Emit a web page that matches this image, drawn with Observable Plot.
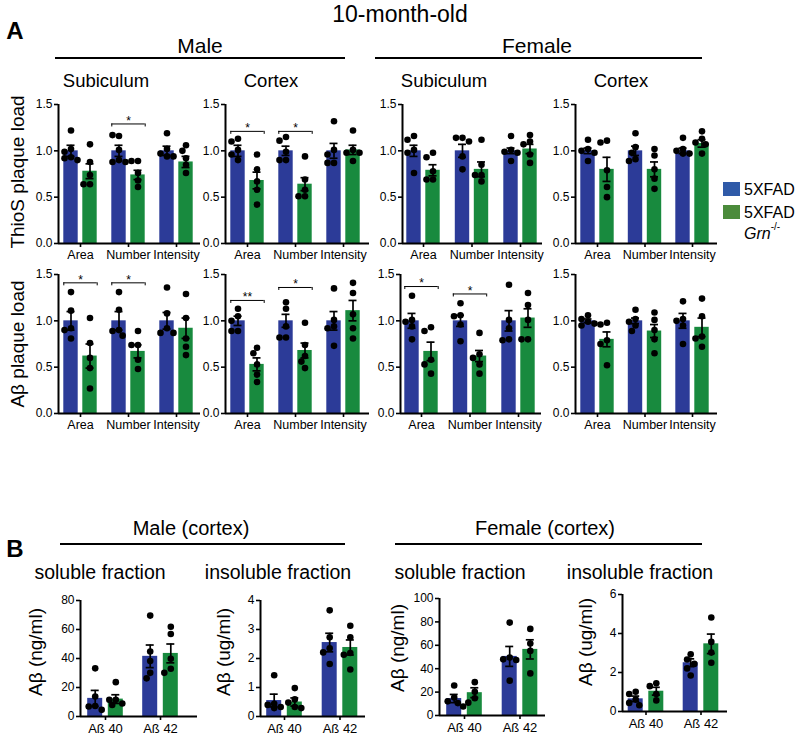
<!DOCTYPE html>
<html><head><meta charset="utf-8">
<script src="https://cdn.jsdelivr.net/npm/d3@7"></script>
<script src="https://cdn.jsdelivr.net/npm/@observablehq/plot@0.6"></script>
<style>
body{margin:0;background:#fff;}
#fig{position:relative;width:799px;height:742px;font-family:"Liberation Sans",Arial,Helvetica,sans-serif;color:#000;overflow:hidden;background:#fff;}
.t{position:absolute;white-space:nowrap;transform:translate(-50%,-50%);line-height:1;}
.hl{position:absolute;height:1.5px;background:#000;}
.p{position:absolute;}
.p svg{overflow:visible;}
</style></head><body><div id="fig"></div>
<script>
// ---------- categories & groups ----------
const catsA = ["Area", "Number", "Intensity"];
const catsB = ["A\u00df 40", "A\u00df 42"];
const groups = ["5XFAD", "5XFAD Grn-/-"];
// values ordered: cat0 5XFAD, cat0 Grn-/-, cat1 5XFAD, cat1 Grn-/-, ...

// ---------- A: ThioS plaque load ----------
const mSubThioMean = [1.00, 0.78, 1.00, 0.74, 1.00, 0.88];
const mSubThioSem  = [0.06, 0.08, 0.06, 0.05, 0.05, 0.06];
const mSubThioPts  = [[1.22,1.02,0.99,0.93,0.92,0.90],[1.07,0.88,0.74,0.64,0.64],[1.16,1.17,1.01,0.90,0.88,0.88],[0.89,0.89,0.76,0.68,0.61],[1.19,1.02,0.97,0.94,0.94],[1.06,1.00,0.92,0.85,0.76]];

const mCtxThioMean = [1.00, 0.68, 1.00, 0.64, 1.00, 1.01];
const mCtxThioSem  = [0.06, 0.09, 0.05, 0.07, 0.08, 0.05];
const mCtxThioPts  = [[1.13,1.10,1.01,0.96,0.90],[0.96,0.80,0.67,0.58,0.42],[1.15,1.11,0.99,0.90,0.90],[0.94,0.69,0.58,0.51,0.51],[1.32,1.01,0.96,0.87,0.87],[1.22,1.01,0.98,0.98,0.89]];

const fSubThioMean = [1.00, 0.79, 1.00, 0.80, 1.00, 1.02];
const fSubThioSem  = [0.06, 0.06, 0.07, 0.08, 0.03, 0.05];
const fSubThioPts  = [[1.16,1.12,1.01,0.98,0.76],[0.98,0.93,0.78,0.69,0.69],[1.14,1.14,1.10,0.94,0.80],[1.12,0.85,0.74,0.74,0.67],[1.16,1.01,0.99,0.98,0.89],[1.17,1.10,1.07,0.96,0.87]];

const fCtxThioMean = [1.00, 0.80, 1.00, 0.80, 1.00, 1.08];
const fCtxThioSem  = [0.03, 0.13, 0.05, 0.08, 0.03, 0.04];
const fCtxThioPts  = [[1.12,1.02,1.00,0.98,0.89],[1.11,1.09,0.79,0.61,0.50],[1.19,1.04,0.98,0.91,0.89],[1.02,0.95,0.80,0.70,0.59],[1.14,1.02,1.00,0.97,0.97],[1.21,1.13,1.09,1.07,0.97]];

// ---------- A: Aβ plaque load ----------
const mSubAbMean = [1.00, 0.62, 1.00, 0.67, 1.00, 0.92];
const mSubAbSem  = [0.10, 0.13, 0.10, 0.07, 0.09, 0.11];
const mSubAbPts  = [[1.31,1.11,0.92,0.90,0.81],[1.03,0.76,0.60,0.49,0.27],[1.31,1.12,0.90,0.89,0.84],[0.89,0.74,0.74,0.58,0.48],[1.36,1.08,0.92,0.87,0.87],[1.29,1.03,0.81,0.72,0.63]];

const mCtxAbMean = [1.00, 0.53, 1.00, 0.68, 1.00, 1.11];
const mCtxAbSem  = [0.05, 0.07, 0.07, 0.08, 0.10, 0.11];
const mCtxAbPts  = [[1.13,1.05,1.00,0.89,0.89],[0.71,0.65,0.53,0.42,0.34],[1.20,1.13,0.94,0.82,0.82],[0.98,0.74,0.62,0.56,0.49],[1.35,1.01,0.94,0.92,0.73],[1.41,1.30,1.07,0.92,0.81]];

const fSubAbMean = [1.00, 0.67, 1.00, 0.62, 1.00, 1.03];
const fSubAbSem  = [0.08, 0.10, 0.06, 0.06, 0.11, 0.10];
const fSubAbPts  = [[1.27,1.01,0.99,0.94,0.80],[0.93,0.89,0.58,0.53,0.43],[1.19,1.06,1.05,0.96,0.78],[0.87,0.64,0.60,0.53,0.43],[1.39,1.01,0.92,0.80,0.79],[1.30,1.17,1.01,0.80,0.80]];

const fCtxAbMean = [1.00, 0.80, 1.00, 0.89, 1.00, 0.93];
const fCtxAbSem  = [0.02, 0.08, 0.03, 0.07, 0.08, 0.10];
const fCtxAbPts  = [[1.06,1.02,0.99,0.97,0.95],[0.98,0.96,0.79,0.75,0.52],[1.12,1.02,0.99,0.95,0.89],[1.09,1.01,0.90,0.80,0.65],[1.21,1.02,1.00,0.95,0.75],[1.24,1.05,0.83,0.81,0.72]];

// significance brackets: [category index, level, label]
const mSubThioSig = [[1, 1.29, "*"]];
const mCtxThioSig = [[0, 1.21, "*"], [1, 1.21, "*"]];
const mSubAbSig   = [[0, 1.41, "*"], [1, 1.41, "*"]];
const mCtxAbSig   = [[0, 1.22, "**"], [1, 1.36, "*"]];
const fSubAbSig   = [[0, 1.37, "*"], [1, 1.29, "*"]];

// ---------- B: ELISA ----------
const mSolMean = [12.5, 12.0, 41.5, 43.5];
const mSolSem  = [5.5, 3.0, 7.8, 6.5];
const mSolPts  = [[33.2,13.8,7.2,6.9,4.6],[23.7,11.5,11.5,9.0,8.0],[69.6,44.8,38.2,30.1,26.3],[61.9,56.9,39.8,32.9,30.1]];

const mInsolMean = [0.55, 0.50, 2.55, 2.38];
const mInsolSem  = [0.22, 0.14, 0.32, 0.26];
const mInsolPts  = [[1.42,0.44,0.40,0.33,0.29],[0.98,0.59,0.48,0.33,0.29],[3.66,2.73,2.35,2.21,1.81],[3.13,2.73,2.19,2.13,1.62]];

const fSolMean = [14.5, 19.5, 50.5, 56.5];
const fSolSem  = [3.5, 4.2, 8.5, 8.2];
const fSolPts  = [[25.6,15.4,12.1,10.6,7.7],[28.5,20.2,14.8,11.0],[79.4,49.5,48.0,47.5,29.8],[74.0,61.5,55.2,36.0]];

const fInsolMean = [0.65, 1.04, 2.50, 3.47];
const fInsolSem  = [0.14, 0.20, 0.20, 0.50];
const fInsolPts  = [[1.01,0.90,0.61,0.44,0.32],[1.45,1.30,0.90,0.57],[2.93,2.67,2.44,2.21,1.85],[4.82,3.57,3.02,2.50]];

const ticksA = [0, 0.5, 1.0, 1.5];
const ticksSol = [0, 20, 40, 60, 80];
const ticksInsolM = [0, 1, 2, 3, 4];
const ticksSolF = [0, 20, 40, 60, 80, 100];
const ticksInsolF = [0, 2, 4, 6];

// ---------- styling ----------
const FONT = '"Liberation Sans", Arial, Helvetica, sans-serif';
const barColors = ["#2c3b98", "#188a3e"];
const legendColors = ["#2f5aa8", "#4b8b3b"];

const fig = document.getElementById("fig");

function addText(txt, x, y, size, opts = {}) {
  const d = document.createElement("div");
  d.className = "t";
  d.innerHTML = txt;
  d.style.left = x + "px";
  d.style.top = y + "px";
  d.style.fontSize = size + "px";
  if (opts.bold) d.style.fontWeight = "bold";
  if (opts.rot) d.style.transform = "translate(-50%,-50%) rotate(-90deg)";
  if (opts.left) d.style.transform = "translate(0,-50%)";
  fig.appendChild(d);
}
function addLine(x1, x2, y) {
  const d = document.createElement("div");
  d.className = "hl";
  d.style.left = x1 + "px"; d.style.width = (x2 - x1) + "px"; d.style.top = y + "px";
  fig.appendChild(d);
}

function panel(s) {
  const n = s.cats.length;
  const mL = 36, mR = 6, mT = 12, mB = 26;
  const frameW = s.first + (n - 1) * s.step + s.end;
  const frameH = s.bottom - s.top;
  const pxu = frameH / s.ymax;
  const x0 = -s.first / s.step, x1 = (n - 1) + s.end / s.step;
  const offU = s.off / s.step, hwU = s.hw / s.step, capU = 4 / s.step;
  const bars = [], dots = [];
  for (let i = 0; i < n; i++) {
    for (let g = 0; g < 2; g++) {
      const k = i * 2 + g;
      const xc = i + (g ? offU : -offU);
      bars.push({xc, mean: s.mean[k], sem: s.sem[k], g});
      // simple beeswarm so overlapping dots sit side by side
      const placed = [];
      const cand = [0, -3.6, 3.6, -6.5, 6.5, -9, 9];
      for (const v of s.pts[k]) {
        const py = v * pxu;
        let best = 0, bestD = -1;
        for (const c of cand) {
          let md = Infinity;
          for (const p of placed) md = Math.min(md, Math.hypot(p[0] - c, p[1] - py));
          if (md >= 6.2) { best = c; bestD = md; break; }
          if (md > bestD) { bestD = md; best = c; }
        }
        placed.push([best, py]);
        dots.push({x: xc + best / s.step, y: v});
      }
    }
  }
  const sig = (s.sig || []).map(([c, level, label]) => ({
    a: c - offU - hwU, b: c + offU + hwU, c, level, label, drop: 3 / pxu
  }));
  const chart = Plot.plot({
    width: mL + frameW + mR,
    height: mT + frameH + mB,
    marginLeft: mL, marginRight: mR, marginTop: mT, marginBottom: mB,
    x: {domain: [x0, x1], axis: null},
    y: {domain: [0, s.ymax], axis: null},
    style: {fontFamily: FONT, color: "#000", background: "transparent", overflow: "visible"},
    marks: [
      Plot.rectY(bars, {x1: d => d.xc - hwU, x2: d => d.xc + hwU, y: "mean", fill: d => barColors[d.g]}),
      Plot.dot(dots, {x: "x", y: "y", r: 3.3, fill: "#000"}),
      Plot.ruleX(bars, {x: "xc", y1: d => d.mean - d.sem, y2: d => d.mean + d.sem, stroke: "#000", strokeWidth: 1.7}),
      Plot.ruleY(bars, {y: d => d.mean + d.sem, x1: d => d.xc - capU, x2: d => d.xc + capU, stroke: "#000", strokeWidth: 1.7}),
      Plot.ruleY(bars, {y: d => d.mean - d.sem, x1: d => d.xc - capU, x2: d => d.xc + capU, stroke: "#000", strokeWidth: 1.7}),
      Plot.ruleY(sig, {y: "level", x1: "a", x2: "b", stroke: "#000", strokeWidth: 1}),
      Plot.ruleX(sig, {x: "a", y1: d => d.level - d.drop, y2: "level", stroke: "#000", strokeWidth: 1}),
      Plot.ruleX(sig, {x: "b", y1: d => d.level - d.drop, y2: "level", stroke: "#000", strokeWidth: 1}),
      Plot.text(sig, {x: "c", y: "level", text: "label", fontSize: 12, dy: -3, fill: "#000"}),
      Plot.ruleY([0], {stroke: "#000", strokeWidth: 2}),
      Plot.ruleX([x0], {y1: 0, y2: s.ymax, stroke: "#000", strokeWidth: 2}),
      Plot.axisY({ticks: s.ticks, tickFormat: s.fmt, tickSize: 4, tickPadding: 2, fontSize: 12, strokeWidth: 1.6}),
      Plot.axisX({ticks: d3.range(n), tickFormat: i => s.cats[i], tickSize: 4, tickPadding: 3, fontSize: s.xfs, strokeWidth: 1.6})
    ]
  });
  const wrap = document.createElement("div");
  wrap.className = "p";
  wrap.style.left = (s.axis - mL) + "px";
  wrap.style.top = (s.top - mT) + "px";
  wrap.appendChild(chart);
  fig.appendChild(wrap);
}

const f1 = d3.format(".1f"), f0 = d3.format("d");
const A = {cats: catsA, ymax: 1.5, ticks: ticksA, fmt: f1, off: 9.5, hw: 7.2, xfs: 12.5};
const B = {cats: catsB, off: 10.3, hw: 7.5, fmt: f0, xfs: 13};

const panels = [
  {...A, mean: mSubThioMean, sem: mSubThioSem, pts: mSubThioPts, sig: mSubThioSig, axis: 58,  first: 22, step: 48,   end: 24, top: 104, bottom: 243},
  {...A, mean: mCtxThioMean, sem: mCtxThioSem, pts: mCtxThioPts, sig: mCtxThioSig, axis: 225, first: 22, step: 48,   end: 26, top: 104, bottom: 243},
  {...A, mean: fSubThioMean, sem: fSubThioSem, pts: fSubThioPts, axis: 402, first: 21, step: 48.5, end: 22, top: 104, bottom: 243},
  {...A, mean: fCtxThioMean, sem: fCtxThioSem, pts: fCtxThioPts, axis: 575, first: 22, step: 47.5, end: 25, top: 104, bottom: 243},
  {...A, mean: mSubAbMean, sem: mSubAbSem, pts: mSubAbPts, sig: mSubAbSig, axis: 58,  first: 22, step: 48,   end: 24, top: 274, bottom: 413},
  {...A, mean: mCtxAbMean, sem: mCtxAbSem, pts: mCtxAbPts, sig: mCtxAbSig, axis: 225, first: 22, step: 48,   end: 26, top: 274, bottom: 413},
  {...A, mean: fSubAbMean, sem: fSubAbSem, pts: fSubAbPts, sig: fSubAbSig, axis: 400, first: 21, step: 48.5, end: 23, top: 274, bottom: 413},
  {...A, mean: fCtxAbMean, sem: fCtxAbSem, pts: fCtxAbPts, axis: 575, first: 22, step: 47.5, end: 25, top: 274, bottom: 413},
  {...B, mean: mSolMean, sem: mSolSem, pts: mSolPts, ymax: 80, ticks: ticksSol, axis: 80, first: 25, step: 55, end: 37, top: 600, bottom: 716},
  {...B, mean: mInsolMean, sem: mInsolSem, pts: mInsolPts, ymax: 4, ticks: ticksInsolM, axis: 260, first: 24, step: 55.5, end: 25.5, top: 600, bottom: 716},
  {...B, mean: fSolMean, sem: fSolSem, pts: fSolPts, ymax: 100, ticks: ticksSolF, axis: 439, first: 25, step: 55.5, end: 25.5, top: 598, bottom: 715},
  {...B, mean: fInsolMean, sem: fInsolSem, pts: fInsolPts, ymax: 6, ticks: ticksInsolF, axis: 622, first: 23.5, step: 55, end: 26.5, top: 594, bottom: 711}
];
panels.forEach(panel);

// ---------- headings ----------
addText("10-month-old", 400, 14, 23);
addText("A", 15, 31, 24, {bold: true});
addText("Male", 200, 45, 21);
addLine(55, 345, 57);
addText("Female", 537, 45, 21);
addLine(375, 702, 57);
addText("Subiculum", 106, 81, 18.5);
addText("Cortex", 271, 81, 18.5);
addText("Subiculum", 444, 81, 18.5);
addText("Cortex", 621, 81, 18.5);
addText("ThioS plaque load", 17, 172, 19, {rot: true});
addText("A\u03b2 plaque load", 17, 344, 19, {rot: true});

addText("B", 15, 549, 24, {bold: true});
addText("Male (cortex)", 191, 528, 20);
addLine(60, 345, 543);
addText("Female (cortex)", 545, 528, 20);
addLine(395, 702, 543);
addText("soluble fraction", 100, 573, 19.5);
addText("insoluble fraction", 278, 573, 19.5);
addText("soluble fraction", 460, 573, 19.5);
addText("insoluble fraction", 640, 573, 19.5);
addText("A\u03b2 (ng/ml)", 35, 652, 19, {rot: true});
addText("A\u03b2 (ug/ml)", 223, 652, 19, {rot: true});
addText("A\u03b2 (ng/ml)", 397, 648, 19, {rot: true});
addText("A\u03b2 (ug/ml)", 585, 642, 19, {rot: true});

// ---------- legend ----------
groups.forEach((g, i) => {
  const sw = document.createElement("div");
  sw.style.cssText = `position:absolute;left:723px;top:${182 + i * 23}px;width:17px;height:14px;background:${legendColors[i]};`;
  fig.appendChild(sw);
  addText("5XFAD", 744, 190 + i * 23, 16, {left: true});
});
addText("<i>Grn</i><sup style='font-size:10px;position:relative;top:-2px'>-/-</sup>", 744, 233, 16, {left: true});
</script></body></html>
